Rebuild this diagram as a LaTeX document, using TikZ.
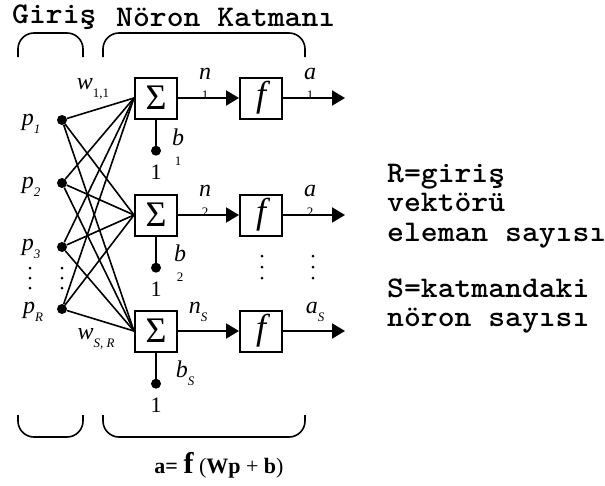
\documentclass[tikz,border=0pt]{standalone}
\usepackage{fontspec}
\setmainfont{Liberation Serif}
\usepackage{tikz}
\usetikzlibrary{arrows.meta,positioning}

\newcommand{\lsub}[1]{\raisebox{-8pt}{\fontsize{13}{13}\selectfont #1}}

\begin{document}
\begin{tikzpicture}[
    x=1pt, y=-1pt,
    neuron/.style={draw, line width=2pt, minimum width=42pt, minimum height=41pt, inner sep=0pt},
    sumbox/.style={neuron, font=\fontsize{36}{36}\selectfont},
    actbox/.style={neuron, font=\itshape\fontsize{36}{36}\selectfont},
    dot/.style={circle, fill, inner sep=0pt, minimum size=10pt},
    lbl/.style={font=\itshape\fontsize{24}{24}\selectfont, inner sep=0pt},
    stk/.style={lbl, align=center},
    note/.style={font=\ttfamily\bfseries\fontsize{30}{29.6}\selectfont, inner sep=0pt, anchor=west, align=left, xscale=1.07},
    wire/.style={line width=1.6pt},
    arrow/.style={-{Triangle[length=13pt,width=15pt]}, line width=2pt},
    brace/.style={line width=1.6pt, rounded corners=16pt},
  ]
    \useasboundingbox (0,0) rectangle (605,485);

    % ---- başlık ----
    \node[note] (giris) at (12,17) {Giriş};
    \node[note] (katman) at (116,17) {Nöron Katmanı};
    \draw[brace] (18,57) -- (18,33) -- (83,33) -- (83,57);
    \draw[brace] (103,57) -- (103,33) -- (305,33) -- (305,57);

    % ---- girişler ----
    \node[dot] (in1) at (62,120) {};
    \node[dot] (in2) at (62,183) {};
    \node[dot] (in3) at (62,247) {};
    \node[dot] (inR) at (62,309) {};
    \node[lbl] (p1) at (31,124) {p\lsub{1}};
    \node[lbl] (p2) at (31,187) {p\lsub{2}};
    \node[lbl] (p3) at (31,249) {p\lsub{3}};
    \node[lbl] (pR) at (33,312) {p\lsub{\itshape R}};
    % dikey noktalar
    \fill (30,268) circle (1.5) (30,278) circle (1.5) (30,288) circle (1.5);
    \fill (62,268) circle (1.5) (62,278) circle (1.5) (62,288) circle (1.5);

    % ---- nöronlar ----
    \node[sumbox] (sum1) at (156,98) {Σ};
    \node[sumbox] (sum2) at (156,215) {Σ};
    \node[sumbox] (sumS) at (156,331) {Σ};
    \node[actbox, right=61pt of sum1] (act1) {f};
    \node[actbox, right=61pt of sum2] (act2) {f};
    \node[actbox, right=61pt of sumS] (actS) {f};
    \coordinate (out1) at (345,98);
    \coordinate (out2) at (345,215);
    \coordinate (outS) at (345,331);
    \fill (262,256) circle (1.5) (262,267) circle (1.5) (262,278) circle (1.5);
    \fill (313,256) circle (1.5) (313,267) circle (1.5) (313,278) circle (1.5);

    % ---- bias ----
    \node[dot, below=26pt of sum1] (b1) {};
    \node[dot, below=26pt of sum2] (b2) {};
    \node[dot, below=26pt of sumS] (bS) {};
    \node[font=\fontsize{22}{22}\selectfont, inner sep=0pt, below=9pt of b1] (one1) {1};
    \node[font=\fontsize{22}{22}\selectfont, inner sep=0pt, below=9pt of b2] (one2) {1};
    \node[font=\fontsize{22}{22}\selectfont, inner sep=0pt, below=9pt of bS] (oneS) {1};
    \draw[wire] (sum1) -- (b1);
    \draw[wire] (sum2) -- (b2);
    \draw[wire] (sumS) -- (bS);
    \node[stk] (lb1) at (178,147) {b\\[-4pt]{\upshape\fontsize{13}{13}\selectfont 1}};
    \node[stk] (lb2) at (180,263) {b\\[-4pt]{\upshape\fontsize{13}{13}\selectfont 2}};
    \node[lbl] (lbS) at (185,373) {b\lsub{S}};

    % ---- ağırlıklar ----
    \draw[wire] (in1) -- (sum1.west) (in1) -- (sum2.west) (in1) -- (sumS.west);
    \draw[wire] (in2) -- (sum1.west) (in2) -- (sum2.west) (in2) -- (sumS.west);
    \draw[wire] (in3) -- (sum1.west) (in3) -- (sum2.west) (in3) -- (sumS.west);
    \draw[wire] (inR) -- (sum1.west) (inR) -- (sum2.west) (inR) -- (sumS.west);
    \node[lbl] (w11) at (93,89) {w\lsub{\upshape 1,1}};
    \node[lbl] (wSR) at (96,339) {w\lsub{S, R}};

    % ---- oklar ----
    \draw[arrow] (sum1) -- (act1);
    \draw[arrow] (sum2) -- (act2);
    \draw[arrow] (sumS) -- (actS);
    \draw[arrow] (act1) -- (out1);
    \draw[arrow] (act2) -- (out2);
    \draw[arrow] (actS) -- (outS);
    \node[stk] (n1) at (205,84) {n\\[-4pt]{\upshape\fontsize{13}{13}\selectfont 1}};
    \node[stk] (n2) at (205,201) {n\\[-4pt]{\upshape\fontsize{13}{13}\selectfont 2}};
    \node[lbl] (nS) at (198,312) {n\lsub{S}};
    \node[stk] (a1) at (310,84) {a\\[-4pt]{\upshape\fontsize{13}{13}\selectfont 1}};
    \node[stk] (a2) at (310,201) {a\\[-4pt]{\upshape\fontsize{13}{13}\selectfont 2}};
    \node[lbl] (aS) at (315,312) {a\lsub{S}};

    % ---- alt ----
    \draw[brace] (18,415) -- (18,437) -- (83,437) -- (83,415);
    \draw[brace] (103,415) -- (103,437) -- (305,437) -- (305,415);
    \node[inner sep=0pt, font=\fontsize{22}{22}\selectfont] (formul) at (219,465)
      {\textbf{a=} {\bfseries\fontsize{30}{30}\selectfont f} (\textbf{Wp} + \textbf{b})};

    % ---- açıklama ----
    \node[note] (rnote) at (387,206) {R=giriş\\vektörü\\eleman sayısı};
    \node[note] (snote) at (387,306) {S=katmandaki\\nöron sayısı};
\end{tikzpicture}
\end{document}
